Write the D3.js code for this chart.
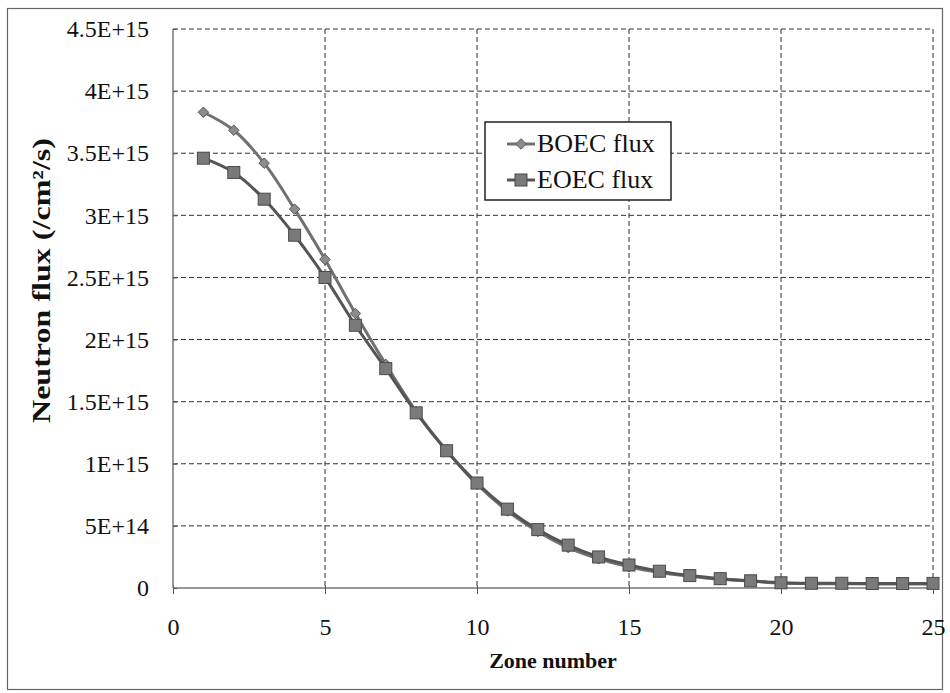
<!DOCTYPE html>
<html>
<head>
<meta charset="utf-8">
<script src="https://cdn.jsdelivr.net/npm/d3@7"></script>
<style>
  body { margin: 0; background: #fff; }
  text { font-family: "Liberation Serif", "DejaVu Serif", serif; fill: #111; }
</style>
</head>
<body>
<svg id="chart" width="950" height="693"></svg>
<script>
// zones 1..25
const zones = d3.range(1, 26)
const boec = [3.83e15, 3.685e15, 3.42e15, 3.05e15, 2.645e15, 2.21e15, 1.80e15, 1.42e15, 1.105e15, 0.835e15,
  0.62e15, 0.455e15, 0.325e15, 0.235e15, 0.17e15, 0.125e15, 0.095e15, 0.07e15, 0.055e15, 0.04e15,
  0.035e15, 0.035e15, 0.033e15, 0.033e15, 0.033e15]
const eoec = [3.46e15, 3.345e15, 3.13e15, 2.84e15, 2.50e15, 2.115e15, 1.766e15, 1.41e15, 1.105e15, 0.845e15,
  0.635e15, 0.47e15, 0.345e15, 0.25e15, 0.185e15, 0.135e15, 0.10e15, 0.075e15, 0.058e15, 0.042e15,
  0.038e15, 0.038e15, 0.036e15, 0.036e15, 0.037e15]
const yTicks = [0, 5e14, 1e15, 1.5e15, 2e15, 2.5e15, 3e15, 3.5e15, 4e15, 4.5e15]
const yTickLabels = ['0', '5E+14', '1E+15', '1.5E+15', '2E+15', '2.5E+15', '3E+15', '3.5E+15', '4E+15', '4.5E+15']
const xTicks = [0, 5, 10, 15, 20, 25]
const seriesNames = ['BOEC flux', 'EOEC flux']

const svg = d3.select('#chart')
const margin = { top: 29, right: 17, bottom: 105, left: 173 }
const width = 950, height = 693
const innerWidth = width - margin.left - margin.right
const innerHeight = height - margin.top - margin.bottom

// outer frame
svg.append('rect')
  .attr('x', 7.5).attr('y', 8.5)
  .attr('width', 935).attr('height', 681)
  .attr('fill', 'none')
  .attr('stroke', '#666')
  .attr('stroke-width', 1.2)

const xScale = d3.scaleLinear().domain([0, 25]).range([0, innerWidth])
const yScale = d3.scaleLinear().domain([0, 4.5e15]).range([innerHeight, 0])

const g = svg.append('g')
  .attr('transform', `translate(${margin.left},${margin.top})`)

// grid
g.selectAll('.hgrid').data(yTicks.filter(d => d > 0))
  .enter().append('line')
  .attr('x1', 0).attr('x2', innerWidth)
  .attr('y1', d => yScale(d)).attr('y2', d => yScale(d))
  .attr('stroke', '#333')
  .attr('stroke-width', 1)
  .attr('stroke-dasharray', '5,3')

g.selectAll('.vgrid').data(xTicks.filter(d => d > 0))
  .enter().append('line')
  .attr('x1', d => xScale(d)).attr('x2', d => xScale(d))
  .attr('y1', 0).attr('y2', innerHeight)
  .attr('stroke', '#333')
  .attr('stroke-width', 1)
  .attr('stroke-dasharray', '5,3')

// axes
const xAxisG = g.append('g')
  .attr('transform', `translate(0,${innerHeight})`)
  .call(d3.axisBottom(xScale).tickValues(xTicks).tickSize(6).tickPadding(24))

const yAxisG = g.append('g')
  .call(d3.axisLeft(yScale).tickValues(yTicks).tickSize(6).tickPadding(18)
    .tickFormat((d, i) => yTickLabels[i]))

xAxisG.selectAll('.tick line').attr('y1', -3).attr('stroke', '#555')
yAxisG.selectAll('.tick line').attr('x2', 4).attr('stroke', '#555')
xAxisG.select('.domain').attr('stroke', '#777').attr('stroke-width', 1.5).attr('d', `M0,0H${innerWidth}`)
yAxisG.select('.domain').attr('stroke', '#777').attr('stroke-width', 1.5).attr('d', `M0,0V${innerHeight}`)

g.selectAll('.tick text')
  .style('font-family', '"Liberation Serif", serif')
  .style('font-size', '24px')
  .attr('fill', '#111')

// axis titles
g.append('text')
  .attr('x', innerWidth / 2)
  .attr('y', innerHeight + 80)
  .attr('text-anchor', 'middle')
  .style('font-size', '22px')
  .style('font-weight', 'bold')
  .text('Zone number')

g.append('text')
  .attr('transform', `translate(${-margin.left + 50},${innerHeight / 2 - 28}) rotate(-90)`)
  .attr('text-anchor', 'middle')
  .attr('textLength', 285)
  .attr('lengthAdjust', 'spacingAndGlyphs')
  .style('font-size', '25px')
  .style('font-weight', 'bold')
  .text('Neutron flux (/cm²/s)')

// lines
const line = d3.line()
  .x(d => xScale(d[0]))
  .y(d => yScale(d[1]))
  .curve(d3.curveCatmullRom.alpha(0.5))

const boecPts = zones.map((z, i) => [z, boec[i]])
const eoecPts = zones.map((z, i) => [z, eoec[i]])

g.append('path').datum(boecPts)
  .attr('d', line)
  .attr('fill', 'none')
  .attr('stroke', '#717171')
  .attr('stroke-width', 3)

g.append('path').datum(eoecPts)
  .attr('d', line)
  .attr('fill', 'none')
  .attr('stroke', '#555')
  .attr('stroke-width', 3)

const diamond = d3.symbol().type(d3.symbolDiamond2).size(70)

g.selectAll('.boecPt').data(boecPts)
  .enter().append('path')
  .attr('d', diamond)
  .attr('transform', d => `translate(${xScale(d[0])},${yScale(d[1])})`)
  .attr('fill', '#8c8c8c')
  .attr('stroke', '#555')
  .attr('stroke-width', 1)

g.selectAll('.eoecPt').data(eoecPts)
  .enter().append('rect')
  .attr('x', d => xScale(d[0]) - 6)
  .attr('y', d => yScale(d[1]) - 6)
  .attr('width', 12).attr('height', 12)
  .attr('fill', '#7a7a7a')
  .attr('stroke', '#4a4a4a')
  .attr('stroke-width', 1)

// legend
const legend = svg.append('g').attr('transform', 'translate(485,122)')
legend.append('rect')
  .attr('width', 186).attr('height', 78)
  .attr('fill', '#fff')
  .attr('stroke', '#222')
  .attr('stroke-width', 1.5)

const rows = legend.selectAll('.row').data(seriesNames)
  .enter().append('g')
  .attr('transform', (d, i) => `translate(0,${22 + i * 36})`)

rows.append('line')
  .attr('x1', 22).attr('x2', 50)
  .attr('stroke', (d, i) => i === 0 ? '#717171' : '#555')
  .attr('stroke-width', 3)

rows.filter((d, i) => i === 0).append('path')
  .attr('d', diamond)
  .attr('transform', 'translate(36,0)')
  .attr('fill', '#8c8c8c')
  .attr('stroke', '#555')

rows.filter((d, i) => i === 1).append('rect')
  .attr('x', 30).attr('y', -6)
  .attr('width', 12).attr('height', 12)
  .attr('fill', '#7a7a7a')
  .attr('stroke', '#4a4a4a')

rows.append('text')
  .attr('x', 52)
  .attr('y', 8)
  .style('font-size', '26px')
  .text(d => d)
</script>
</body>
</html>
